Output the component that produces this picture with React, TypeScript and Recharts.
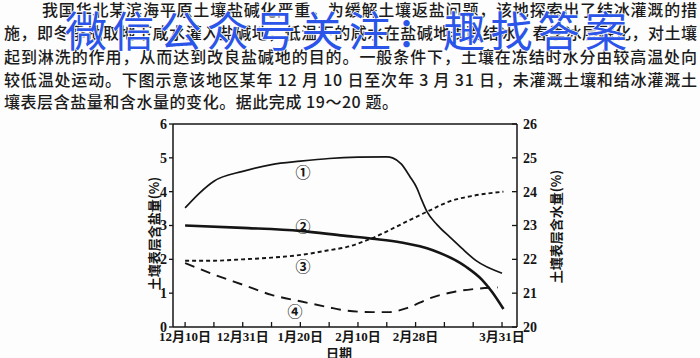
import React from 'react';
import { LineChart, Line, XAxis, YAxis, ReferenceLine } from 'recharts';

// x = days after Dec 10 (axis ticks every 10 days, as drawn in the figure)
const xTicks = [0, 10, 20, 30, 40, 50, 60, 70, 80, 90, 100, 110];
const xTickLabels = ['12月10日', '', '12月31日', '', '1月20日', '', '2月10日', '', '2月28日', '', '', '3月31日'];
const saltTicks = [0, 1, 2, 3, 4, 5, 6];
const waterTicks = [20, 21, 22, 23, 24, 25, 26];

// curve ① (solid, thin) - salt %
const c1Days = [0, 5, 10, 20, 30, 40, 50, 60, 70, 72, 75, 78, 80.5, 82, 84, 87.5, 92, 96, 101, 110];
const c1Vals = [3.52, 3.96, 4.31, 4.6, 4.8, 4.9, 4.98, 5.02, 5.03, 5.0, 4.82, 4.45, 4.1, 3.78, 3.4, 3.02, 2.65, 2.33, 1.96, 1.59];
// curve ② (solid, thick) - salt %
const c2Days = [0, 20, 40, 55, 65, 75, 86, 97.5, 103, 106.5, 110.5];
const c2Vals = [3.0, 2.93, 2.84, 2.7, 2.61, 2.5, 2.27, 1.78, 1.4, 1.04, 0.53];
// curve ③ (short dashes) - water %
const c3Days = [0, 10, 20, 30, 41, 50, 56, 65, 77, 85, 92, 100, 110.5];
const c3Vals = [21.96, 21.96, 22.0, 22.05, 22.14, 22.27, 22.36, 22.63, 23.12, 23.45, 23.72, 23.88, 24.0];
// curve ④ (long dashes) - water %
const c4Days = [0, 10, 20, 30, 40, 50, 54, 65, 71, 77, 85, 94, 100, 108.5];
const c4Vals = [21.89, 21.55, 21.25, 20.95, 20.76, 20.58, 20.51, 20.44, 20.44, 20.56, 20.85, 21.05, 21.12, 21.17];

const paragraph = [
  '我国华北某滨海平原土壤盐碱化严重，为缓解土壤返盐问题，该地探索出了结冰灌溉的措',
  '施，即冬季抽取地下咸水灌入盐碱地，低温下的咸水在盐碱地表面结冰，春季冰层融化，对土壤',
  '起到淋洗的作用，从而达到改良盐碱地的目的。一般条件下，土壤在冻结时水分由较高温处向',
  '较低温处运动。下图示意该地区某年 12 月 10 日至次年 3 月 31 日，未灌溉土壤和结冰灌溉土',
  '壤表层含盐量和含水量的变化。据此完成 19～20 题。',
];

const toRows = (xs: number[], ys: number[]) => xs.map((d, i) => ({ day: d, v: ys[i] }));

const INK = '#151515';
const AXIS_FONT = "'Liberation Serif', 'Noto Sans CJK SC', serif";
const CJK = "'Noto Sans CJK SC', sans-serif";

function DateTick(props: any) {
  const { x, y, payload } = props;
  const idx = xTicks.indexOf(payload.value);
  const label = idx >= 0 ? xTickLabels[idx] : '';
  if (!label) return <g />;
  return (
    <text x={x} y={y} dy="0.71em" textAnchor="middle" fill={INK} fontSize={13} fontWeight={700} fontFamily={AXIS_FONT}>
      {label}
    </text>
  );
}

function WaterTick(props: any) {
  const { x, y, payload } = props;
  return (
    <text x={x} y={y} dy="0.35em" textAnchor="start" fill={INK} fontSize={14} fontWeight={700} fontFamily={AXIS_FONT}>
      {payload.value}
    </text>
  );
}

export default function App() {
  const tickStyle = { fill: INK, fontSize: 14, fontWeight: 700, fontFamily: AXIS_FONT };
  const axisLine = { stroke: INK, strokeWidth: 1.5 };
  const tickLine = { stroke: INK, strokeWidth: 1.3 };
  const lineStarts = [42, 4, 4, 4, 4];
  const lineLens = [655, 693, 693, 693, 394];
  const baselines = [16, 39, 63, 86, 108];
  const markStyle = { fontSize: 15, fontWeight: 700, fontFamily: CJK, fill: INK };

  return (
    <div style={{ position: 'absolute', left: 0, top: 0, width: 700, height: 358, background: '#fdfdfd', overflow: 'hidden' }}>
      <div style={{ position: 'absolute', left: 0, top: 0 }}>
        <LineChart width={700} height={358} margin={{ top: 124, right: 150, bottom: 0, left: 140 }}>
          <XAxis
            type="number"
            dataKey="day"
            domain={[-4.2, 115.2]}
            ticks={xTicks}
            interval={0}
            allowDataOverflow
            height={31}
            tickSize={-5}
            tickMargin={10}
            axisLine={axisLine}
            tickLine={tickLine}
            tick={<DateTick />}
          />
          <YAxis
            yAxisId="salt"
            domain={[0, 6]}
            ticks={saltTicks}
            interval={0}
            width={33}
            tickSize={4}
            tickMargin={2}
            axisLine={axisLine}
            tickLine={tickLine}
            tick={tickStyle}
          />
          <YAxis
            yAxisId="water"
            orientation="right"
            domain={[20, 26]}
            ticks={waterTicks}
            interval={0}
            allowDataOverflow
            width={33}
            tickSize={-5}
            tickMargin={11}
            axisLine={axisLine}
            tickLine={tickLine}
            tick={<WaterTick />}
          />
          <ReferenceLine yAxisId="salt" y={6} stroke={INK} strokeWidth={1.5} />
          <Line yAxisId="salt" data={toRows(c1Days, c1Vals)} dataKey="v" type="monotone" stroke={INK} strokeWidth={1.7} dot={false} isAnimationActive={false} />
          <Line yAxisId="salt" data={toRows(c2Days, c2Vals)} dataKey="v" type="monotone" stroke={INK} strokeWidth={2.6} dot={false} isAnimationActive={false} />
          <Line yAxisId="water" data={toRows(c3Days, c3Vals)} dataKey="v" type="monotone" stroke={INK} strokeWidth={1.9} strokeDasharray="4 3" dot={false} isAnimationActive={false} />
          <Line yAxisId="water" data={toRows(c4Days, c4Vals)} dataKey="v" type="monotone" stroke={INK} strokeWidth={1.9} strokeDasharray="10 7" dot={false} isAnimationActive={false} />
        </LineChart>
      </div>

      <svg width={700} height={358} style={{ position: 'absolute', left: 0, top: 0, pointerEvents: 'none' }}>
        {paragraph.map((line, i) => (
          <text key={i} x={lineStarts[i]} y={baselines[i]} textLength={lineLens[i]} lengthAdjust="spacing" fontSize={16} fontWeight={500} fontFamily={CJK} fill="#1b1b1b">
            {line}
          </text>
        ))}
        <text x={65} y={47} textLength={562} lengthAdjust="spacing" fontSize={42} fontFamily={CJK} fill="#2b55e8" stroke="#ffffff" strokeWidth={1.5} paintOrder="stroke">
          微信公众号关注：趣找答案
        </text>

        <text transform="translate(153,233.5) rotate(-90)" textAnchor="middle" dominantBaseline="central" fontSize={13} fontWeight={700} fontFamily={CJK} fill={INK}>
          土壤表层含盐量(%)
        </text>
        <text transform="translate(555.5,226.5) rotate(-90)" textAnchor="middle" dominantBaseline="central" fontSize={13} fontWeight={700} fontFamily={CJK} fill={INK}>
          土壤表层含水量(%)
        </text>
        <text x={339} y={352} textAnchor="middle" dominantBaseline="central" fontSize={13} fontWeight={700} fontFamily={CJK} fill={INK}>
          日期
        </text>

        <text x={303} y={171} textAnchor="middle" dominantBaseline="central" {...markStyle}>①</text>
        <text x={303} y={225} textAnchor="middle" dominantBaseline="central" {...markStyle}>②</text>
        <text x={303} y={265} textAnchor="middle" dominantBaseline="central" {...markStyle}>③</text>
        <text x={295} y={310} textAnchor="middle" dominantBaseline="central" {...markStyle}>④</text>
      </svg>
    </div>
  );
}
